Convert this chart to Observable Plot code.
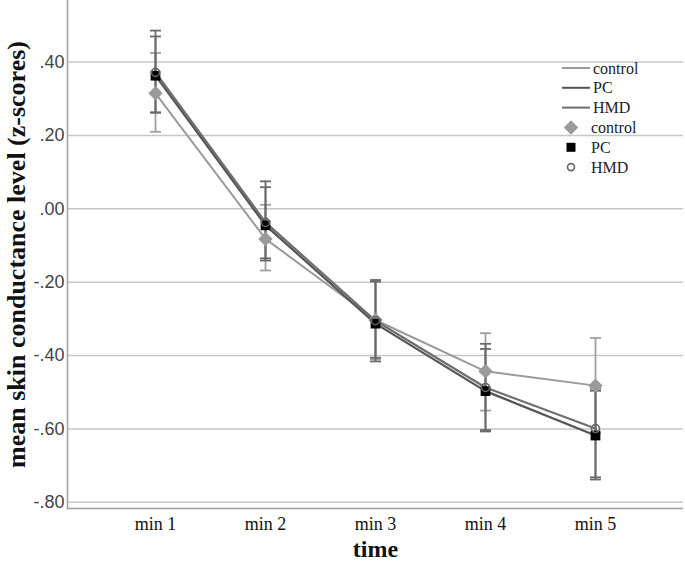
<!DOCTYPE html>
<html>
<head>
<meta charset="utf-8">
<script src="https://cdn.jsdelivr.net/npm/d3@7"></script>
<script src="https://cdn.jsdelivr.net/npm/@observablehq/plot@0.6"></script>
<style>
  html, body { margin: 0; padding: 0; background: #fff; }
  #wrap { position: relative; width: 685px; height: 567px; }
  #legend { position: absolute; left: 0; top: 0; pointer-events: none; }
</style>
</head>
<body>
<div id="wrap"></div>
<script>
// ---- data ----
const times = ["min 1", "min 2", "min 3", "min 4", "min 5"];
const groups = ["control", "PC", "HMD"];
const controlMean = [0.315, -0.082, -0.303, -0.443, -0.482];
const controlLo   = [0.210, -0.168, -0.410, -0.550, -0.612];
const controlHi   = [0.425,  0.011, -0.198, -0.339, -0.352];
const pcMean = [0.363, -0.045, -0.313, -0.497, -0.618];
const pcLo   = [0.262, -0.141, -0.416, -0.607, -0.738];
const pcHi   = [0.470,  0.059, -0.198, -0.382, -0.496];
const hmdMean = [0.372, -0.037, -0.305, -0.487, -0.599];
const hmdLo   = [0.263, -0.135, -0.406, -0.603, -0.732];
const hmdHi   = [0.486,  0.075, -0.194, -0.368, -0.490];
const yTicks = [-0.8, -0.6, -0.4, -0.2, 0, 0.2, 0.4];

const means = {control: controlMean, PC: pcMean, HMD: hmdMean};
const los = {control: controlLo, PC: pcLo, HMD: hmdLo};
const his = {control: controlHi, PC: pcHi, HMD: hmdHi};
const rows = groups.flatMap(g => times.map((t, i) => ({group: g, time: t, mean: means[g][i], lo: los[g][i], hi: his[g][i]})));
const byGroup = g => rows.filter(d => d.group === g);

const lineColor = {control: "#9a9a9a", PC: "#555555", HMD: "#6e6e6e"};
const barColor = {control: "#a0a0a0", PC: "#6a6a6a", HMD: "#6a6a6a"};

const capSymbol = {
  draw(ctx, size) {
    const r = Math.sqrt(size / Math.PI);
    ctx.moveTo(-r, 0);
    ctx.lineTo(r, 0);
  }
};

const yMin = -0.817, yMax = 0.568;
const fmt = d => d3.format(".2f")(d).replace("\u2212", "-").replace("0.", ".");
const serif = "Liberation Serif, Times New Roman, serif";

const marks = [
  Plot.gridY(yTicks, {stroke: "#c8c8c8", strokeOpacity: 1, strokeWidth: 1.5}),
  Plot.ruleY([yMin], {stroke: "#a0a0a0", strokeWidth: 1.5}),
  Plot.frame({anchor: "left", stroke: "#a0a0a0", strokeWidth: 1.5}),
  Plot.axisY(yTicks, {tickSize: 0, tickPadding: 3, tickFormat: fmt, fontSize: 18, fill: "#444", fontFamily: "Liberation Sans, Arial, sans-serif", label: null}),
  Plot.axisX({tickSize: 0, tickPadding: 9, fontSize: 18, fill: "#111", fontFamily: serif, label: null}),
  Plot.text(["time"], {frameAnchor: "bottom", dy: 48, fontSize: 24, fontWeight: "bold", fontFamily: serif, fill: "#111"}),
  Plot.text(["mean skin conductance level (z-scores)"], {frameAnchor: "left", textAnchor: "middle", rotate: -90, dx: -51, fontSize: 26, fontWeight: "bold", fontFamily: serif, fill: "#111"})
];

// lines
marks.push(Plot.line(byGroup("control"), {x: "time", y: "mean", stroke: lineColor.control, strokeWidth: 2}));
// error bars
for (const g of groups) {
  const d = byGroup(g);
  marks.push(Plot.ruleX(d, {x: "time", y1: "lo", y2: "hi", stroke: barColor[g], strokeWidth: 1.8}));
  marks.push(Plot.dot(d, {x: "time", y: "lo", symbol: capSymbol, r: 5.5, stroke: barColor[g], strokeWidth: 1.8, fill: "none"}));
  marks.push(Plot.dot(d, {x: "time", y: "hi", symbol: capSymbol, r: 5.5, stroke: barColor[g], strokeWidth: 1.8, fill: "none"}));
}
marks.push(Plot.line(byGroup("PC"), {x: "time", y: "mean", stroke: lineColor.PC, strokeWidth: 2.2}));
marks.push(Plot.line(byGroup("HMD"), {x: "time", y: "mean", stroke: lineColor.HMD, strokeWidth: 2.2}));
// markers
marks.push(Plot.dot(byGroup("control"), {x: "time", y: "mean", symbol: "diamond2", r: 6.5, fill: "#9a9a9a", stroke: "none"}));
marks.push(Plot.dot(byGroup("PC"), {x: "time", y: "mean", symbol: "square", r: 5.5, fill: "#000", stroke: "none"}));
marks.push(Plot.dot(byGroup("HMD"), {x: "time", y: "mean", symbol: "circle", r: 4, fill: "none", stroke: "#666", strokeWidth: 1.6}));

const chart = Plot.plot({
  width: 685,
  height: 567,
  marginLeft: 67,
  marginRight: 2,
  marginTop: 0,
  marginBottom: 59,
  style: {background: "#fff", overflow: "visible"},
  x: {type: "point", domain: times, padding: 0.775, axis: null},
  y: {domain: [yMin, yMax], axis: null},
  marks
});
document.getElementById("wrap").appendChild(chart);

// legend overlay
const legend = d3.select("#wrap").append("svg")
  .attr("id", "legend").attr("width", 685).attr("height", 567);
const lineEntries = groups.map((g, i) => ({g, y: 68 + i * 19.8}));
lineEntries.forEach(e => {
  legend.append("line").attr("x1", 562).attr("x2", 590).attr("y1", e.y).attr("y2", e.y)
    .attr("stroke", lineColor[e.g]).attr("stroke-width", 2);
  legend.append("text").attr("x", 593).attr("y", e.y).attr("dy", "0.35em")
    .attr("font-family", serif).attr("font-size", 16).attr("fill", "#222").text(e.g);
});
const symEntries = groups.map((g, i) => ({g, y: 127.5 + i * 19.8}));
symEntries.forEach(e => {
  const sx = 571;
  if (e.g === "control") {
    legend.append("path").attr("transform", `translate(${sx},${e.y})`)
      .attr("d", d3.symbol(d3.symbolDiamond2, Math.PI * 6.5 * 6.5)()).attr("fill", "#9a9a9a");
  } else if (e.g === "PC") {
    legend.append("rect").attr("x", sx - 4.5).attr("y", e.y - 4.5).attr("width", 9).attr("height", 9).attr("fill", "#000");
  } else {
    legend.append("circle").attr("cx", sx).attr("cy", e.y).attr("r", 3.5)
      .attr("fill", "#fff").attr("stroke", "#666").attr("stroke-width", 1.6);
  }
  legend.append("text").attr("x", 591).attr("y", e.y).attr("dy", "0.35em")
    .attr("font-family", serif).attr("font-size", 16).attr("fill", "#222").text(e.g);
});
</script>
</body>
</html>
